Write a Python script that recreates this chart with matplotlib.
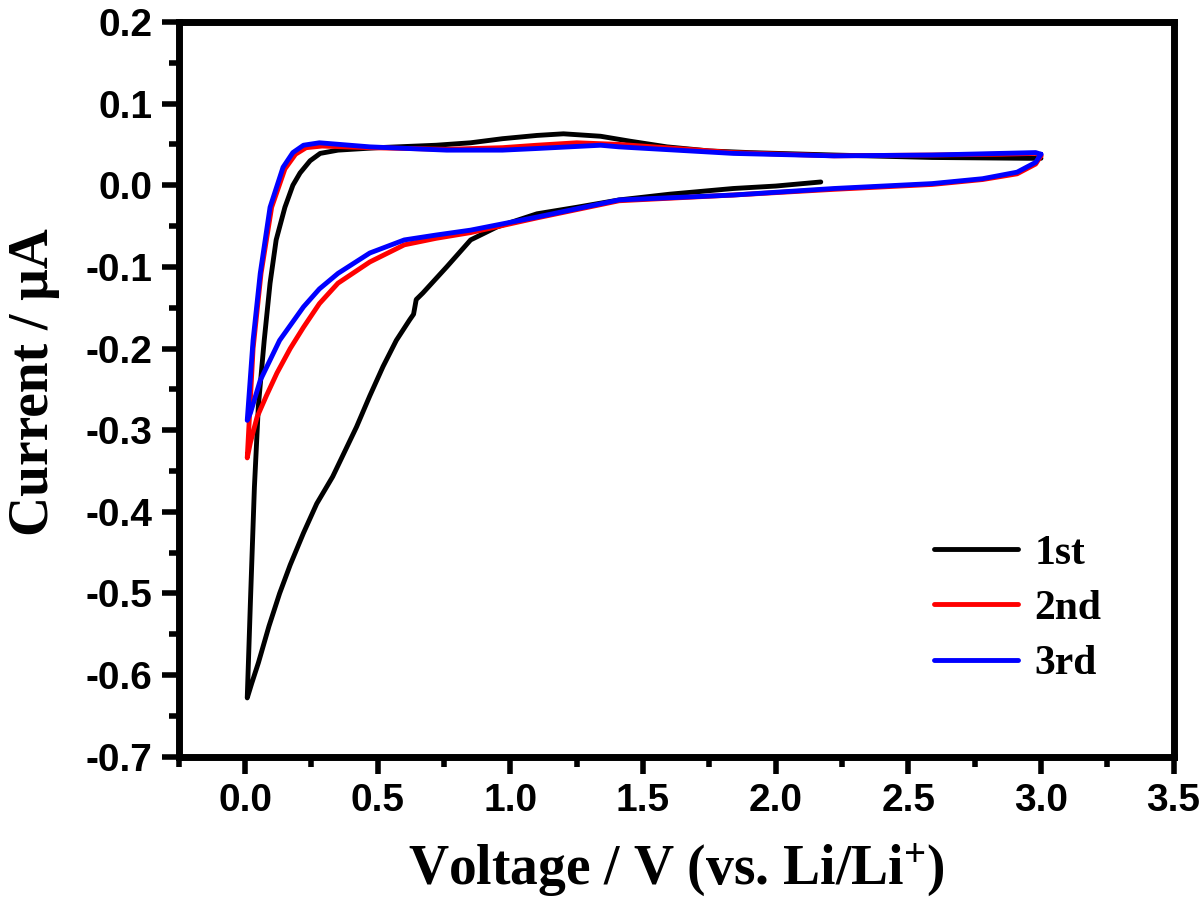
import matplotlib
matplotlib.use("Agg")
import matplotlib.pyplot as plt
from matplotlib.ticker import MultipleLocator

plt.rcParams['mathtext.fontset'] = 'custom'
plt.rcParams['mathtext.rm'] = 'Liberation Serif:bold'
plt.rcParams['mathtext.default'] = 'rm'

# ---- data (V vs. Li/Li+, current in uA) ----
# 1st cycle: cathodic sweep from OCV, then anodic sweep up to 3.0 V
v1_cat = [2.17, 2.0, 1.84, 1.6, 1.41, 1.25, 1.10, 0.95, 0.85, 0.76, 0.67,
          0.645, 0.635, 0.62, 0.57, 0.52, 0.47, 0.42, 0.33, 0.27, 0.22,
          0.17, 0.13, 0.09, 0.05, 0.025, 0.008]
i1_cat = [0.004, -0.001, -0.004, -0.011, -0.018, -0.027, -0.035, -0.051,
          -0.067, -0.10, -0.132, -0.14, -0.158, -0.165, -0.19, -0.222,
          -0.258, -0.296, -0.357, -0.39, -0.426, -0.465, -0.50, -0.54,
          -0.585, -0.61, -0.628]
v1_an = [0.008, 0.02, 0.035, 0.05, 0.072, 0.094, 0.117, 0.15, 0.18, 0.207,
         0.245, 0.283, 0.35, 0.5, 0.72, 0.85, 0.97, 1.1, 1.2, 1.34, 1.45,
         1.59, 1.75, 1.9, 2.22, 2.59, 2.95, 3.0]
i1_an = [-0.628, -0.51, -0.37, -0.27, -0.19, -0.12, -0.067, -0.027, 0.0,
         0.015, 0.03, 0.039, 0.043, 0.046, 0.049, 0.052, 0.057, 0.061, 0.063,
         0.060, 0.054, 0.047, 0.042, 0.040, 0.037, 0.034, 0.033, 0.033]

# 2nd cycle
v2_cat = [3.0, 2.98, 2.91, 2.78, 2.59, 2.22, 1.84, 1.41, 1.10, 0.85, 0.72,
          0.60, 0.47, 0.35, 0.28, 0.22, 0.17, 0.12, 0.08, 0.045, 0.02, 0.008]
i2_cat = [0.036, 0.026, 0.014, 0.007, 0.001, -0.005, -0.012, -0.019, -0.040,
          -0.058, -0.065, -0.073, -0.094, -0.120, -0.145, -0.174, -0.20,
          -0.23, -0.258, -0.284, -0.315, -0.334]
v2_an = [0.008, 0.03, 0.06, 0.10, 0.15, 0.19, 0.23, 0.29, 0.47, 0.76, 0.97,
         1.1, 1.25, 1.41, 1.84, 2.22, 2.59, 2.85, 2.98, 3.0]
i2_an = [-0.334, -0.20, -0.108, -0.027, 0.020, 0.038, 0.046, 0.048, 0.046,
         0.044, 0.046, 0.049, 0.052, 0.050, 0.040, 0.036, 0.037, 0.038,
         0.039, 0.036]

# 3rd cycle
v3_cat = [3.0, 2.98, 2.91, 2.78, 2.59, 2.22, 1.84, 1.41, 1.10, 0.85, 0.72,
          0.60, 0.47, 0.35, 0.28, 0.22, 0.13, 0.057, 0.02, 0.008]
i3_cat = [0.038, 0.028, 0.016, 0.008, 0.002, -0.004, -0.012, -0.018, -0.039,
          -0.055, -0.061, -0.067, -0.083, -0.108, -0.127, -0.149, -0.19,
          -0.239, -0.279, -0.288]
v3_an = [0.008, 0.03, 0.057, 0.094, 0.143, 0.18, 0.22, 0.28, 0.47, 0.76,
         0.97, 1.1, 1.22, 1.34, 1.41, 1.84, 2.22, 2.59, 2.85, 2.98, 3.0]
i3_an = [-0.288, -0.19, -0.108, -0.027, 0.022, 0.040, 0.049, 0.052, 0.047,
         0.043, 0.043, 0.045, 0.047, 0.049, 0.047, 0.039, 0.036, 0.037,
         0.039, 0.040, 0.038]

labels = ['1st', '2nd', '3rd']
colors = ['black', 'red', 'blue']

fig = plt.figure(figsize=(12, 9.15), dpi=100)
ax = fig.add_axes([0.149, 0.173, 0.829, 0.803])

cycles = [(v1_cat + v1_an, i1_cat + i1_an),
          (v2_cat + v2_an, i2_cat + i2_an),
          (v3_cat + v3_an, i3_cat + i3_an)]
for (v, i), lab, c in zip(cycles, labels, colors):
    ax.plot(v, i, color=c, linewidth=3.5, label=lab,
            solid_joinstyle='round', solid_capstyle='round')

ax.set_xlim(-0.25, 3.5)
ax.set_ylim(-0.7, 0.2)
ax.xaxis.set_major_locator(MultipleLocator(0.5))
ax.xaxis.set_minor_locator(MultipleLocator(0.25))
ax.yaxis.set_major_locator(MultipleLocator(0.1))
ax.yaxis.set_minor_locator(MultipleLocator(0.05))
ax.xaxis.set_major_formatter(plt.FuncFormatter(lambda x, p: f"{x:.1f}"))
ax.yaxis.set_major_formatter(plt.FuncFormatter(lambda y, p: f"{y:.1f}"))

for s in ax.spines.values():
    s.set_linewidth(5)
ax.tick_params(which='major', direction='out', length=12, width=4,
               labelsize=28, pad=7, top=False, right=False)
ax.tick_params(which='minor', direction='out', length=7, width=4,
               top=False, right=False)
for t in ax.get_xticklabels() + ax.get_yticklabels():
    t.set_fontfamily('Liberation Sans')
    t.set_fontweight('bold')

ax.set_xlabel(r"Voltage / V (vs. Li/Li$^{+}$)", fontsize=40,
              fontfamily='Liberation Serif', fontweight='bold', labelpad=16)
ax.set_ylabel("Current / \u03bcA", fontsize=40,
              fontfamily='Liberation Serif', fontweight='bold', labelpad=18)
ax.yaxis.label.set_y(0.51)

leg = ax.legend(loc='lower right', frameon=False, handlelength=2.0,
                handletextpad=0.4, labelspacing=0.41,
                bbox_to_anchor=(0.965, 0.049),
                prop={'family': 'Liberation Serif', 'weight': 'bold',
                      'size': 30})

fig.savefig("out.png", dpi=100)
